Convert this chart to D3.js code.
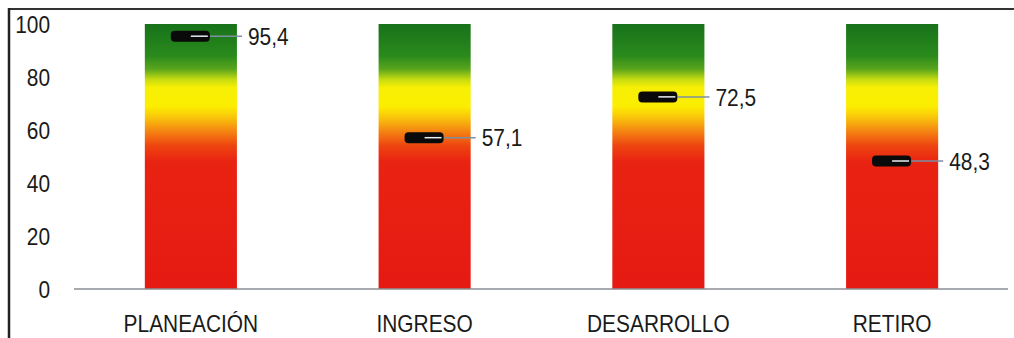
<!DOCTYPE html>
<html>
<head>
<meta charset="utf-8">
<script src="https://cdn.jsdelivr.net/npm/d3@7"></script>
<style>
  html, body { margin: 0; padding: 0; background: #ffffff; }
  svg { display: block; }
  text { font-family: "Liberation Sans", Arial, sans-serif; fill: #1a1a1a; }
</style>
</head>
<body>
<svg id="chart" width="1014" height="338"></svg>
<script>
const categories = ["PLANEACIÓN", "INGRESO", "DESARROLLO", "RETIRO"];
const values = [95.4, 57.1, 72.5, 48.3];
const valueLabels = ["95,4", "57,1", "72,5", "48,3"];
const yTicks = [0, 20, 40, 60, 80, 100];

const W = 1014, H = 338;
const SX = 0.87; // horizontal condensing of the scanned type
const svg = d3.select("#chart");

const x = d3.scaleBand().domain(categories).range([74, 1009])
  .paddingInner(0.606).paddingOuter(0.303);
const y = d3.scaleLinear().domain([0, 100]).range([289, 24]);

// gradient (top = 100, bottom = 0)
const defs = svg.append("defs");
const grad = defs.append("linearGradient")
  .attr("id", "semaforo")
  .attr("gradientUnits", "userSpaceOnUse")
  .attr("x1", 0).attr("x2", 0)
  .attr("y1", y(100)).attr("y2", y(0));
const stops = [
  [0.00, "#17721a"],
  [0.12, "#2a8a1c"],
  [0.17, "#5aa51c"],
  [0.21, "#c8dc10"],
  [0.24, "#f6ef04"],
  [0.31, "#fcee00"],
  [0.35, "#f9c80a"],
  [0.40, "#f58a12"],
  [0.46, "#ee4410"],
  [0.52, "#e92312"],
  [1.00, "#e51a12"]
];
stops.forEach(s => grad.append("stop").attr("offset", s[0]).attr("stop-color", s[1]));

// frame
svg.append("line").attr("x1", 9).attr("x2", W).attr("y1", 9).attr("y2", 9)
  .attr("stroke", "#333").attr("stroke-width", 2);
svg.append("line").attr("x1", 9).attr("x2", 9).attr("y1", 8).attr("y2", H)
  .attr("stroke", "#222").attr("stroke-width", 2.5);

// bars
svg.selectAll("rect.bar").data(categories).enter().append("rect")
  .attr("class", "bar")
  .attr("x", d => x(d))
  .attr("width", x.bandwidth())
  .attr("y", y(100))
  .attr("height", y(0) - y(100))
  .attr("fill", "url(#semaforo)");

// axis baseline
svg.append("line")
  .attr("x1", 74).attr("x2", 1008)
  .attr("y1", y(0)).attr("y2", y(0))
  .attr("stroke", "#8a8f96").attr("stroke-width", 1.5);

// y tick labels
svg.selectAll("text.ytick").data(yTicks).enter().append("text")
  .attr("class", "ytick")
  .attr("transform", d => `translate(50,${y(d)}) scale(${SX},1)`)
  .attr("dy", "0.36em")
  .attr("text-anchor", "end")
  .attr("font-size", 24)
  .text(d => d);

// category labels
svg.selectAll("text.cat").data(categories).enter().append("text")
  .attr("class", "cat")
  .attr("transform", d => `translate(${x(d) + x.bandwidth() / 2},332) scale(${SX},1)`)
  .attr("text-anchor", "middle")
  .attr("font-size", 24)
  .text(d => d);

// markers
const g = svg.selectAll("g.mk").data(categories).enter().append("g").attr("class", "mk");
g.append("line")
  .attr("x1", d => x(d) + 26 + 39)
  .attr("x2", d => x(d) + x.bandwidth() + 5)
  .attr("y1", (d, i) => y(values[i]))
  .attr("y2", (d, i) => y(values[i]))
  .attr("stroke", "#7d8fa3").attr("stroke-width", 1.5);
g.append("rect")
  .attr("x", d => x(d) + 26)
  .attr("y", (d, i) => y(values[i]) - 5.5)
  .attr("width", 39).attr("height", 11)
  .attr("rx", 4).attr("ry", 4)
  .attr("fill", "#0a0a0a");
g.append("line")
  .attr("x1", d => x(d) + 46)
  .attr("x2", d => x(d) + 63)
  .attr("y1", (d, i) => y(values[i]))
  .attr("y2", (d, i) => y(values[i]))
  .attr("stroke", "#e8eef2").attr("stroke-width", 1.5);
g.append("text")
  .attr("transform", (d, i) => `translate(${x(d) + x.bandwidth() + 11},${y(values[i])}) scale(${SX},1)`)
  .attr("dy", "0.36em")
  .attr("font-size", 24)
  .text((d, i) => valueLabels[i]);
</script>
</body>
</html>
